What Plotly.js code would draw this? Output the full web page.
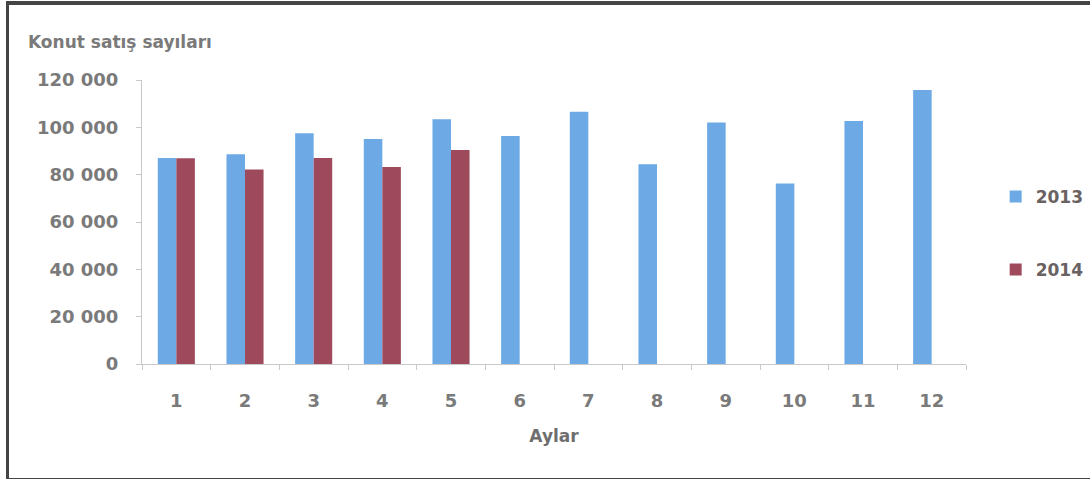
<!DOCTYPE html>
<html>
<head>
<meta charset="utf-8">
<script src="https://cdn.plot.ly/plotly-3.0.1.min.js"></script>
<style>
  html, body { margin: 0; padding: 0; background: #fff; }
  #chart { position: absolute; left: 0; top: 0; width: 1090px; height: 479px; }
  #frame { position: absolute; left: 6px; top: 1px; width: 1090px; height: 473px;
           border-left: 3px solid #444; border-top: 4px solid #444; border-bottom: 3px solid #444;
           pointer-events: none; }
</style>
</head>
<body>
<div id="chart"></div>
<div id="frame"></div>
<script>
const months = ['1','2','3','4','5','6','7','8','9','10','11','12'];
const sales2013 = [87000, 88600, 97500, 95100, 103400, 96300, 106600, 84400, 102000, 76300, 102700, 115800];
const sales2014 = [86900, 82200, 87000, 83200, 90400, null, null, null, null, null, null, null];
const yTicks = [0, 20000, 40000, 60000, 80000, 100000, 120000];

const fontFam = '"DejaVu Sans", sans-serif';

const traces = [
  { type: 'bar', name: '2013', x: months, y: sales2013, marker: { color: '#6DAAE5' }, legendgroup: 'a' },
  { type: 'bar', name: '2014', x: months, y: sales2014, marker: { color: '#9F4A5C' }, legendgroup: 'b' }
];

const layout = {
  width: 1090, height: 479,
  margin: { l: 142, r: 124, t: 80, b: 115, autoexpand: false },
  paper_bgcolor: 'rgba(0,0,0,0)', plot_bgcolor: 'rgba(0,0,0,0)',
  separators: ', ',
  barmode: 'group', bargap: 0.46, bargroupgap: 0,
  font: { family: fontFam, color: '#7f7f7f', size: 16, weight: 'bold' },
  title: { text: 'Konut satış sayıları', x: 0, xref: 'paper', xanchor: 'left', y: 0.925, yref: 'container',
           font: { family: fontFam, size: 17, color: '#7a7a7a', weight: 'bold' }, pad: { l: -114 } },
  xaxis: {
    type: 'category', showline: true, linecolor: '#c8c8c8', linewidth: 1,
    ticks: 'outside', tickson: 'boundaries', ticklen: 5, tickcolor: '#c8c8c8',
    ticklabelstandoff: 20, tickfont: { size: 18, color: '#7a7a7a', weight: 'bold' },
    title: { text: 'Aylar', standoff: 20, font: { size: 17, color: '#6e6e6e', weight: 'bold' } },
    showgrid: false, zeroline: false
  },
  yaxis: {
    range: [0, 120000], tickvals: yTicks, tickformat: ',d',
    showline: true, linecolor: '#c8c8c8', linewidth: 1,
    ticks: 'outside', ticklen: 5, tickcolor: '#c8c8c8', ticklabelstandoff: 14,
    tickfont: { size: 18, color: '#7a7a7a', weight: 'bold' },
    showgrid: false, zeroline: false
  },
  legend: {
    x: 1.036, y: 0.46, xanchor: 'left', yanchor: 'middle',
    font: { size: 17, color: '#6a6262', weight: 'bold' },
    tracegroupgap: 48, itemwidth: 30, bgcolor: 'rgba(0,0,0,0)'
  },
  showlegend: true
};

Plotly.newPlot('chart', traces, layout, { displayModeBar: false, staticPlot: true });
</script>
</body>
</html>
